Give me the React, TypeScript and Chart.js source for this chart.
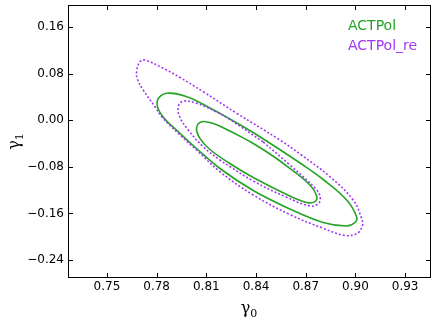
import React, { useEffect, useRef } from 'react';
import { Chart, registerables } from 'chart.js';

Chart.register(...registerables);

// Axis ticks and ranges
const xTicks = [0.75, 0.78, 0.81, 0.84, 0.87, 0.9, 0.93];
const yTicks = [-0.24, -0.16, -0.08, 0, 0.08, 0.16];
const xMin = 0.7265;
const xMax = 0.945;
const yMin = -0.2692;
const yMax = 0.1978;

const legendLabels = ['ACTPol', 'ACTPol_re'];
const seriesColors = ['#24a324', '#a336f5'];

// ACTPol (green, solid) contours
const actpolInnerX = [0.8363, 0.8484, 0.8604, 0.8725, 0.8766, 0.8755, 0.8705, 0.8585, 0.8383, 0.8242, 0.8122, 0.8061, 0.8041, 0.8072, 0.8142, 0.8242];
const actpolInnerY = [-0.0366, -0.058, -0.0826, -0.1112, -0.1301, -0.1399, -0.1413, -0.1276, -0.0984, -0.0743, -0.0503, -0.0311, -0.0134, -0.0026, -0.0057, -0.0185];
const actpolOuterX = [0.8383, 0.8524, 0.8665, 0.8805, 0.8947, 0.9007, 0.8997, 0.8947, 0.8805, 0.8604, 0.8383, 0.8182, 0.8041, 0.7941, 0.783, 0.7804, 0.786, 0.7981, 0.8122, 0.8242];
const actpolOuterY = [-0.0211, -0.0469, -0.0735, -0.1018, -0.137, -0.1657, -0.1756, -0.1816, -0.1756, -0.1524, -0.1207, -0.0829, -0.0486, -0.0225, 0.0089, 0.033, 0.0462, 0.0403, 0.0209, 0.0021];

// ACTPol_re (purple, dotted) contours
const actpolReInnerX = [0.8443, 0.8604, 0.8766, 0.8788, 0.8769, 0.8725, 0.8585, 0.8383, 0.8242, 0.8182, 0.8081, 0.7991, 0.7941, 0.793, 0.796, 0.8041, 0.8162, 0.8242];
const actpolReInnerY = [-0.0374, -0.0769, -0.1198, -0.1353, -0.1447, -0.1473, -0.1324, -0.1044, -0.0795, -0.0683, -0.0455, -0.0168, 0.0046, 0.0227, 0.0326, 0.029, 0.0141, 0.0012];
const actpolReOuterX = [0.8283, 0.8544, 0.8665, 0.8846, 0.8986, 0.9037, 0.9043, 0.9024, 0.9007, 0.8936, 0.8805, 0.8604, 0.8383, 0.8182, 0.8041, 0.7941, 0.7832, 0.779, 0.7719, 0.7684, 0.7679, 0.7699, 0.7729, 0.784, 0.7941, 0.8081];
const actpolReOuterY = [0.0118, -0.034, -0.058, -0.097, -0.137, -0.1684, -0.1799, -0.1911, -0.1954, -0.1979, -0.1856, -0.1619, -0.1284, -0.0884, -0.0512, -0.0254, 0.0055, 0.0232, 0.0518, 0.0707, 0.0833, 0.1004, 0.1033, 0.0891, 0.0733, 0.0489];

const closedPath = (xs: number[], ys: number[]) => {
  const pts = xs.map((x, i) => ({ x, y: ys[i] }));
  return [...pts, pts[0]];
};

const fmt = (v: number) => {
  const s = Math.abs(v).toFixed(2);
  return v < -1e-9 ? '\u2212' + s : s;
};

const decorPlugin = {
  id: 'decor',
  afterDraw(chart: any) {
    const { ctx, chartArea } = chart;
    const { left, right, top, bottom } = chartArea;
    const xs = chart.scales.x;
    const ys = chart.scales.y;
    ctx.save();
    ctx.strokeStyle = '#000';
    ctx.lineWidth = 1;
    ctx.strokeRect(left + 0.5, top + 0.5, right - left, bottom - top);
    const tl = 4;
    ctx.beginPath();
    xTicks.forEach((v) => {
      const p = Math.round(xs.getPixelForValue(v)) + 0.5;
      ctx.moveTo(p, bottom);
      ctx.lineTo(p, bottom - tl);
      ctx.moveTo(p, top + 1);
      ctx.lineTo(p, top + 1 + tl);
    });
    yTicks.forEach((v) => {
      const p = Math.round(ys.getPixelForValue(v)) + 0.5;
      ctx.moveTo(left + 1, p);
      ctx.lineTo(left + 1 + tl, p);
      ctx.moveTo(right, p);
      ctx.lineTo(right - tl, p);
    });
    ctx.stroke();

    // legend
    ctx.font = '14px "DejaVu Sans"';
    ctx.textAlign = 'left';
    ctx.textBaseline = 'alphabetic';
    legendLabels.forEach((lab, i) => {
      ctx.fillStyle = seriesColors[i];
      ctx.fillText(lab, 348, 29.5 + i * 20);
    });

    // axis titles
    ctx.fillStyle = '#000';
    const drawTitle = (main: string, sub: string) => {
      ctx.font = '16px "DejaVu Serif"';
      const w1 = ctx.measureText(main).width;
      ctx.font = '11px "DejaVu Serif"';
      const w2 = ctx.measureText(sub).width;
      const start = -(w1 + w2) / 2;
      ctx.font = '16px "DejaVu Serif"';
      ctx.fillText(main, start, 0);
      ctx.font = '11px "DejaVu Serif"';
      ctx.fillText(sub, start + w1, 4);
    };
    ctx.save();
    ctx.translate((left + right) / 2, 312.5);
    drawTitle('\u03b3', '0');
    ctx.restore();
    ctx.save();
    ctx.translate(18.5, 141.5);
    ctx.rotate(-Math.PI / 2);
    drawTitle('\u03b3', '1');
    ctx.restore();
    ctx.restore();
  },
};

export default function App() {
  const ref = useRef<HTMLCanvasElement | null>(null);
  useEffect(() => {
    document.body.style.margin = '0';
    const canvas = ref.current;
    if (!canvas) return;
    const green = seriesColors[0];
    const purple = seriesColors[1];
    const lineDs = (label: string, data: any[], color: string, dotted: boolean) => ({
      label,
      data,
      showLine: true,
      borderColor: color,
      backgroundColor: color,
      borderWidth: 1.6,
      borderDash: dotted ? [2, 2] : [],
      pointRadius: 0,
      pointHoverRadius: 0,
      tension: 0.4,
      fill: false,
    });
    const chart = new Chart(canvas, {
      type: 'scatter',
      data: {
        datasets: [
          lineDs(legendLabels[1], closedPath(actpolReOuterX, actpolReOuterY), purple, true),
          lineDs(legendLabels[1], closedPath(actpolReInnerX, actpolReInnerY), purple, true),
          lineDs(legendLabels[0], closedPath(actpolOuterX, actpolOuterY), green, false),
          lineDs(legendLabels[0], closedPath(actpolInnerX, actpolInnerY), green, false),
        ],
      },
      options: {
        animation: false,
        responsive: false,
        devicePixelRatio: 1,
        layout: { padding: { top: 5, right: 6, left: 0, bottom: 0 } },
        plugins: { legend: { display: false }, tooltip: { enabled: false } },
        events: [],
        scales: {
          x: {
            type: 'linear',
            min: xMin,
            max: xMax,
            grid: { display: false, drawTicks: false },
            border: { display: false },
            afterBuildTicks: (s: any) => {
              s.ticks = xTicks.map((v) => ({ value: v }));
            },
            afterFit: (s: any) => {
              s.height = 47;
              s.paddingLeft = 0;
              s.paddingRight = 0;
            },
            ticks: {
              padding: 3,
              color: '#000',
              font: { family: '"DejaVu Sans"', size: 12 },
              maxRotation: 0,
              autoSkip: false,
              callback: (v: any) => fmt(Number(v)),
            },
          },
          y: {
            type: 'linear',
            min: yMin,
            max: yMax,
            grid: { display: false, drawTicks: false },
            border: { display: false },
            afterBuildTicks: (s: any) => {
              s.ticks = yTicks.map((v) => ({ value: v }));
            },
            afterFit: (s: any) => {
              s.width = 68;
              s.paddingTop = 0;
              s.paddingBottom = 0;
            },
            ticks: {
              padding: 4,
              color: '#000',
              font: { family: '"DejaVu Sans"', size: 12 },
              autoSkip: false,
              callback: (v: any) => fmt(Number(v)),
            },
          },
        },
      },
      plugins: [decorPlugin],
    });
    return () => chart.destroy();
  }, []);
  return <canvas ref={ref} width={436} height={324} style={{ display: 'block', width: 436, height: 324 }} />;
}
